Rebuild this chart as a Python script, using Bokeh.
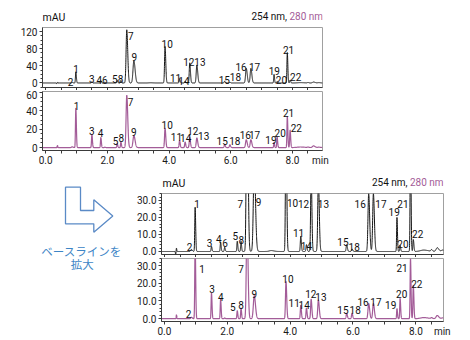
import numpy as np
from bokeh.plotting import figure
from bokeh.layouts import column, row
from bokeh.models import Range1d, FixedTicker, PrintfTickFormatter, ColumnDataSource, Label
from bokeh.embed import file_html
from bokeh.resources import INLINE
from bokeh.core.properties import value

# ---------------- data ----------------
peak_ids = [str(i) for i in range(1, 23)]
peak_rt = [0.98, 0.86, 1.50, 1.79, 2.32, 1.92, 2.63, 2.44, 2.86, 3.87,
           4.34, 4.67, 4.90, 4.52, 5.80, 6.50, 6.65, 5.97, 7.40, 7.50, 7.83, 7.92]
peak_h254 = [26, 1.2, 3.0, 5.5, 6.0, 2.5, 124, 6.0, 52, 85,
             9.0, 47, 42, 4.0, 4.0, 34, 34, 1.5, 20, 3.5, 71, 7.0]
peak_h280 = [43, 0.8, 14.5, 11, 4.5, 0.4, 57, 6.0, 13, 21,
             7.5, 11, 10.5, 6.0, 3.0, 8.5, 8.5, 3.0, 5.7, 11.5, 34, 19]
peak_sigma = [0.012, 0.02, 0.012, 0.012, 0.012, 0.012, 0.022, 0.012, 0.028, 0.016,
              0.014, 0.016, 0.020, 0.014, 0.016, 0.022, 0.022, 0.016, 0.011, 0.012, 0.012, 0.013]
# unnumbered baseline features (injection disturbance, late bumps)
base_rt = [0.36, 0.385, 3.40, 8.25, 8.50, 8.68, 8.85]
base_h254 = [-1.8, 2.0, 0.5, 0.8, 1.0, 2.2, 0.8]
base_h280 = [0.0, 2.2, 0.0, 0.6, 0.5, 1.8, 0.4]
base_sigma = [0.007, 0.007, 0.06, 0.10, 0.02, 0.035, 0.04]

x_ticks = [0, 2, 4, 6, 8]
x_unit = "min"

# peak-number label placements (x in min, y in mAU) per panel
lab_top254 = [("1", 0.99, 33), ("2", 0.81, 2), ("3", 1.50, 8.7), ("4", 1.74, 6.4), ("5", 2.24, 8.7),
              ("6", 1.92, 6), ("7", 2.76, 110), ("8", 2.43, 8.7), ("9", 2.87, 61), ("10", 3.94, 91),
              ("11", 4.21, 12.5), ("12", 4.64, 50), ("13", 5.00, 48), ("14", 4.48, 4.7), ("15", 5.79, 7),
              ("16", 6.33, 37), ("17", 6.77, 37), ("18", 6.15, 14), ("19", 7.41, 27), ("20", 7.64, 6),
              ("21", 7.87, 78), ("22", 8.10, 14)]
lab_top280 = [("1", 1.0, 45.8), ("3", 1.5, 18), ("4", 1.78, 15.7), ("5", 2.27, 7.5), ("7", 2.75, 50),
              ("8", 2.45, 10), ("9", 2.86, 16.5), ("10", 3.94, 25), ("11", 4.24, 11), ("12", 4.77, 18),
              ("13", 5.12, 12.8), ("14", 4.54, 10), ("15", 5.72, 7.5), ("16", 6.47, 13.6), ("17", 6.77, 13.6),
              ("18", 6.13, 7.5), ("19", 7.30, 8.6), ("20", 7.60, 16.4), ("21", 7.87, 37.9), ("22", 8.12, 21.8)]
lab_bot254 = [("1", 1.04, 28), ("2", 0.80, 2.5), ("3", 1.44, 5), ("4", 1.73, 7.5), ("5", 2.26, 9),
              ("6", 1.93, 5), ("7", 2.42, 28), ("8", 2.45, 7), ("9", 3.00, 29), ("10", 4.08, 28.5),
              ("11", 4.27, 10.8), ("12", 4.43, 28), ("13", 5.06, 28), ("14", 4.52, 3), ("15", 5.68, 5.5),
              ("16", 6.23, 28), ("17", 6.89, 28), ("18", 6.04, 2.5), ("19", 7.31, 23), ("20", 7.59, 4.5),
              ("21", 7.59, 28), ("22", 8.06, 10.4)]
lab_bot280 = [("1", 1.20, 28), ("2", 0.77, 2.4), ("3", 1.52, 17), ("4", 1.80, 12.2), ("5", 2.18, 6.4),
              ("7", 2.44, 28), ("8", 2.44, 7.9), ("9", 2.86, 14), ("10", 3.93, 22.5), ("11", 4.13, 8.8),
              ("12", 4.66, 13.7), ("13", 4.98, 12.2), ("14", 4.45, 8), ("15", 5.68, 4.7), ("16", 6.32, 9.4),
              ("17", 6.73, 9.4), ("18", 6.07, 4.7), ("19", 7.20, 7.5), ("20", 7.55, 13.7), ("21", 7.56, 28.7),
              ("22", 8.03, 19.7)]

# ---------------- styles ----------------
FONT = "Roboto"
JFONT = "Noto Sans CJK JP"
BLACK = "#141414"
PURPLE = "#a35c98"
BLUE = "#3d85c6"
AXC = "#3a3a3a"

XR_TOP = (-0.1, 8.97)
XR_BOT = (-0.09, 8.88)
MINOR_X = [float(v) for v in np.arange(0, 9.01, 0.5)]


def trace(heights, base_heights, t_end):
    t = np.linspace(-0.1, t_end, 5000)
    y = np.zeros_like(t)
    for rt, h, s in zip(peak_rt + base_rt, list(heights) + list(base_heights), peak_sigma + base_sigma):
        sig = np.where(t < rt, s, s * 1.4)
        y += h * np.exp(-0.5 * ((t - rt) / sig) ** 2)
    return t, y


def panel(width, height, xr, yr, ml, mr, mt, mb, yticks, yminor, yfmt, min_pos):
    p = figure(width=width, height=height, x_range=Range1d(*xr), y_range=Range1d(*yr),
               output_backend="svg", toolbar_location=None,
               min_border_left=ml, min_border_right=mr, min_border_top=mt, min_border_bottom=mb)
    p.xgrid.visible = False
    p.ygrid.visible = False
    p.outline_line_color = "#a0a0a0"
    for ax in (p.xaxis[0], p.yaxis[0]):
        ax.axis_line_color = AXC
        ax.major_tick_line_color = AXC
        ax.minor_tick_line_color = AXC
        ax.major_tick_in = 0
        ax.major_tick_out = 3
        ax.minor_tick_in = 0
        ax.minor_tick_out = 2
        ax.major_label_text_font = FONT
        ax.major_label_text_font_size = "10px"
        ax.major_label_text_color = "#1a1a1a"
    p.yaxis.ticker = FixedTicker(ticks=yticks, minor_ticks=yminor)
    p.yaxis.formatter = PrintfTickFormatter(format=yfmt)
    p.yaxis.major_label_standoff = 2
    p.xaxis.minor_tick_out = 3
    p.xaxis.major_tick_line_color = None
    if min_pos is None:
        p.xaxis.ticker = FixedTicker(ticks=[], minor_ticks=MINOR_X)
        p.xaxis.major_label_standoff = 0
    else:
        p.xaxis.ticker = FixedTicker(ticks=x_ticks + [min_pos], minor_ticks=MINOR_X)
        p.xaxis.formatter = PrintfTickFormatter(format="%.1f")
        p.xaxis.major_label_overrides = {min_pos: x_unit}
        p.xaxis.major_label_standoff = 1
    return p


def add_trace(p, heights, base_heights, color, lw, labels, t_end):
    t, y = trace(heights, base_heights, t_end)
    p.line(t, y, line_color=color, line_width=lw)
    src = ColumnDataSource(dict(x=[l[1] for l in labels], y=[l[2] for l in labels],
                                text=[l[0] for l in labels]))
    p.text(x="x", y="y", text="text", source=src, text_align="center", text_baseline="alphabetic",
           text_font=value(FONT), text_font_size=value("10px"), text_color="#111111")


def blank(width, height, x_left, x_right, y_top, y_bottom, ml=0, mr=0, mt=0, mb=0):
    # a figure whose frame is addressed in page pixels (frames are aligned by the layout)
    f = figure(width=width, height=height, x_range=Range1d(x_left, x_right), y_range=Range1d(y_bottom, y_top),
               x_axis_type=None, y_axis_type=None,
               output_backend="svg", toolbar_location=None,
               min_border_left=ml, min_border_right=mr, min_border_top=mt, min_border_bottom=mb)
    f.grid.visible = False
    f.outline_line_color = None
    return f


def header(width, height, ml, mr, page_left, page_right, x_mau, y_mau, x_nm, y_nm):
    h = blank(width, height, page_left + ml, page_left + width - mr, 0, height, ml=ml, mr=mr)
    h.add_layout(Label(x=x_mau, y=y_mau, text="mAU", text_align="left", text_baseline="middle",
                       text_font=FONT, text_font_size="10.5px", text_color="#111111"))
    h.add_layout(Label(x=x_nm, y=y_nm, text="254 nm,", text_align="right", text_baseline="middle",
                       text_font=FONT, text_font_size="10px", text_color="#111111"))
    h.add_layout(Label(x=x_nm + 2.5, y=y_nm, text="280 nm", text_align="left", text_baseline="middle",
                       text_font=FONT, text_font_size="10px", text_color=PURPLE))
    return h


# ---------------- top chart (full scale) ----------------
ha = header(470, 26, 42, 148, 0, 470, 42, 17, 286.5, 15.5)
a1 = panel(470, 64, XR_TOP, (-10.5, 129.3), 42, 148, 1, 3, [0, 40, 80, 120],
           list(range(-10, 130, 10)), "%d", None)
add_trace(a1, peak_h254, base_h254, BLACK, 1.0, lab_top254, 8.97)

a2 = panel(470, 78, XR_TOP, (-3.2, 61.1), 42, 148, 1, 17, [0, 20, 40, 60],
           list(range(0, 61, 5)), "%d", 8.9)
add_trace(a2, peak_h280, base_h280, PURPLE, 1.2, lab_top280, 8.97)

# ---------------- bottom chart (baseline expanded) ----------------
hb = header(340, 24, 31, 27, 130, 470, 162, 15, 407, 14)
b1 = panel(340, 65, XR_BOT, (-1.8, 34.1), 31, 27, 1, 3, [0, 10, 20, 30],
           list(range(0, 35, 2)), "%.1f", None)
add_trace(b1, peak_h254, base_h254, BLACK, 1.0, lab_bot254, 8.88)

b2 = panel(340, 83, XR_BOT, (-1.6, 34.0), 31, 27, 1, 19, [0, 10, 20, 30],
           list(range(0, 35, 2)), "%.1f", 8.84)
add_trace(b2, peak_h280, base_h280, PURPLE, 1.2, lab_bot280, 8.88)

# ---------------- arrow + caption (page-pixel frame: x 0..130, y 168..321) ----------------
lf = blank(130, 172, 0, 130, 168, 321, mb=19)
lf.patch([65, 80, 80, 93.3, 93.3, 112.3, 93.3, 93.3, 65],
         [186.7, 186.7, 210, 210, 199.3, 215.5, 231.7, 223.3, 223.3],
         fill_color="white", line_color="#5a8ac6", line_width=1.3)
lf.add_layout(Label(x=81, y=250, text="ベースラインを", text_align="center", text_baseline="middle",
                    text_font=JFONT, text_font_size="11.5px", text_color=BLUE))
lf.add_layout(Label(x=81.7, y=263.5, text="拡大", text_align="center", text_baseline="middle",
                    text_font=JFONT, text_font_size="11.5px", text_color=BLUE))

layout = column(ha, a1, a2, row(lf, column(hb, b1, b2)))

open("out.html", "w").write(file_html(layout, INLINE))
